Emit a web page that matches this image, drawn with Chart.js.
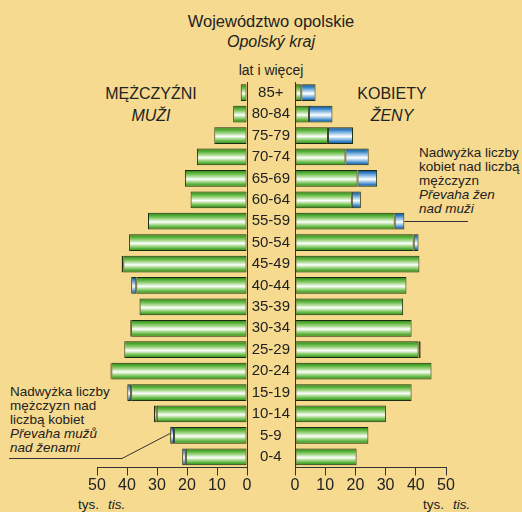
<!DOCTYPE html>
<html>
<head>
<meta charset="utf-8">
<script src="https://cdn.jsdelivr.net/npm/chart.js@4.4.1/dist/chart.umd.min.js"></script>
<style>
  html, body { margin: 0; padding: 0; }
  body {
    width: 522px; height: 512px; position: relative; overflow: hidden;
    background: #f6da8f; color: #222;
    font-family: 'Liberation Sans', Arial, sans-serif;
  }
  canvas { position: absolute; left: 0; top: 0; }
  .t { position: absolute; white-space: nowrap; line-height: 1; }
  .c { transform: translateX(-50%); }
  .i { font-style: italic; }
  .note { position: absolute; white-space: nowrap; font-size: 13.5px; }
</style>
</head>
<body>
<div class="t c" style="left:271px; top:12.5px; font-size:16.5px;">Województwo opolskie</div>
<div class="t c i" style="left:271px; top:33.5px; font-size:16px;">Opolský kraj</div>
<div class="t c" style="left:271px; top:62.5px; font-size:14px;">lat i więcej</div>
<div class="t c" style="left:151px; top:85.5px; font-size:16px;">MĘŻCZYŹNI</div>
<div class="t c i" style="left:151px; top:108px; font-size:16px;">MUŽI</div>
<div class="t c" style="left:392px; top:85.5px; font-size:16px;">KOBIETY</div>
<div class="t c i" style="left:392px; top:108px; font-size:16px;">ŽENY</div>

<div class="note" style="left:419px; top:145.5px; line-height:14.2px;">
  Nadwyżka liczby<br>kobiet nad liczbą<br>mężczyzn<br><i>Převaha žen<br>nad muži</i>
</div>
<div class="note" style="left:10px; top:385px; line-height:14px;">
  Nadwyżka liczby<br>mężczyzn nad<br>liczbą kobiet<br><i>Převaha mužů<br>nad ženami</i>
</div>

<div class="t" style="left:78px; top:498px; font-size:13.5px;">tys.</div>
<div class="t i" style="left:108px; top:498px; font-size:13.5px;">tis.</div>
<div class="t" style="left:423px; top:498px; font-size:13.5px;">tys.</div>
<div class="t i" style="left:453px; top:498px; font-size:13.5px;">tis.</div>

<canvas id="leftChart" width="522" height="512"></canvas>
<canvas id="rightChart" width="522" height="512"></canvas>

<script>
// grupy wieku od najstarszej do najmłodszej
const ageGroups = ['85+', '80-84', '75-79', '70-74', '65-69', '60-64', '55-59', '50-54', '45-49',
  '40-44', '35-39', '30-34', '25-29', '20-24', '15-19', '10-14', '5-9', '0-4']
// tys. osób
const males = [2.1, 4.6, 10.9, 16.7, 20.7, 18.8, 33.0, 39.3, 41.8,
  38.6, 35.9, 38.9, 40.9, 45.5, 39.9, 31.0, 25.6, 21.6]
const females = [6.8, 12.4, 19.2, 24.4, 27.2, 21.8, 36.2, 40.9, 41.2,
  36.9, 35.8, 38.6, 41.6, 45.2, 38.6, 30.1, 24.3, 20.4]
const xMax = 50
const xStep = 10

// część wspólna i nadwyżki
const common = males.map((m, i) => Math.min(m, females[i]))
const maleExcess = males.map((m, i) => Math.max(0, m - females[i]))
const femaleExcess = females.map((f, i) => Math.max(0, f - males[i]))

const fontFamily = "'Liberation Sans', Arial, sans-serif"
const ink = '#222'
const axisColor = '#333'
const barBorder = '#1d2b14'

const greenStops = [[0, '#2b7f1c'], [0.15, '#4aa82c'], [0.35, '#9bd47f'], [0.55, '#ffffff'],
  [0.7, '#a6da8c'], [0.88, '#4aa82c'], [1, '#2f8a1f']]
const blueStops = [[0, '#0c4684'], [0.15, '#2a78bd'], [0.35, '#8fbfe6'], [0.55, '#ffffff'],
  [0.7, '#9cc7ea'], [0.88, '#2a78bd'], [1, '#0e4d8e']]

// gradient pionowy dla każdego słupka
function barFill(stops) {
  return (c) => {
    const chart = c.chart
    const ys = chart.scales.y
    if (c.type !== 'data' || !chart.chartArea || !ys) return stops[1][1]
    const cy = ys.getPixelForValue(c.dataIndex)
    const g = chart.ctx.createLinearGradient(0, cy - 8.5, 0, cy + 8.5)
    stops.forEach(([o, col]) => g.addColorStop(o, col))
    return g
  }
}

function barSet(data, stops) {
  return {
    data: data,
    backgroundColor: barFill(stops),
    borderColor: barBorder,
    borderWidth: (c) => (c.type === 'data' && !(c.raw > 0) ? 0 : 1),
    borderSkipped: false,
    barPercentage: 0.78,
    categoryPercentage: 1,
  }
}

function xAxis(reverse) {
  return {
    type: 'linear',
    reverse: reverse,
    min: 0,
    max: xMax,
    stacked: true,
    ticks: { stepSize: xStep, color: ink, font: { family: fontFamily, size: 16 }, padding: 0, maxRotation: 0 },
    grid: { drawOnChartArea: false, drawTicks: true, tickLength: 8, color: axisColor },
    border: { display: true, color: axisColor },
    afterFit: (s) => { s.height = 30 },
  }
}

const common_opts = {
  responsive: false,
  animation: false,
  indexAxis: 'y',
  plugins: { legend: { display: false }, tooltip: { enabled: false } },
}

// linia od słupka 5-9 do opisu po lewej
const leftNote = {
  id: 'leftNote',
  afterDatasetsDraw(chart) {
    const { ctx, scales: { x, y } } = chart
    const i = ageGroups.indexOf('5-9')
    ctx.save()
    ctx.strokeStyle = axisColor
    ctx.lineWidth = 1
    ctx.beginPath()
    ctx.moveTo(x.getPixelForValue(males[i]), y.getPixelForValue(i) - 2)
    ctx.lineTo(122, 458.5)
    ctx.lineTo(9, 458.5)
    ctx.stroke()
    ctx.restore()
  },
}

// linia od słupka 55-59 pod opisem po prawej
const rightNote = {
  id: 'rightNote',
  afterDatasetsDraw(chart) {
    const { ctx, scales: { x, y } } = chart
    const i = ageGroups.indexOf('55-59')
    const py = Math.round(y.getPixelForValue(i)) + 0.5
    ctx.save()
    ctx.strokeStyle = axisColor
    ctx.lineWidth = 1
    ctx.beginPath()
    ctx.moveTo(x.getPixelForValue(females[i]), py)
    ctx.lineTo(468, py)
    ctx.stroke()
    ctx.restore()
  },
}

new Chart(document.getElementById('leftChart'), {
  type: 'bar',
  data: {
    labels: ageGroups,
    datasets: [barSet(common, greenStops), barSet(maleExcess, blueStops)],
  },
  options: {
    ...common_opts,
    layout: { padding: { left: 97, right: 275, top: 82, bottom: 14.5 } },
    scales: {
      x: xAxis(true),
      y: {
        type: 'category',
        position: 'right',
        stacked: true,
        ticks: { display: false },
        grid: { display: false, drawTicks: false },
        border: { display: true, color: axisColor },
        afterFit: (s) => { s.width = 0 },
      },
    },
  },
  plugins: [leftNote],
})

new Chart(document.getElementById('rightChart'), {
  type: 'bar',
  data: {
    labels: ageGroups,
    datasets: [barSet(common, greenStops), barSet(femaleExcess, blueStops)],
  },
  options: {
    ...common_opts,
    layout: { padding: { left: 247, right: 76, top: 82, bottom: 14.5 } },
    scales: {
      x: xAxis(false),
      y: {
        type: 'category',
        position: 'left',
        stacked: true,
        ticks: {
          autoSkip: false, crossAlign: 'center', padding: 5,
          color: ink, font: { family: fontFamily, size: 15 },
        },
        grid: { display: false, drawTicks: false },
        border: { display: true, color: axisColor },
        afterFit: (s) => { s.width = 48 },
      },
    },
  },
  plugins: [rightNote],
})
</script>
</body>
</html>
